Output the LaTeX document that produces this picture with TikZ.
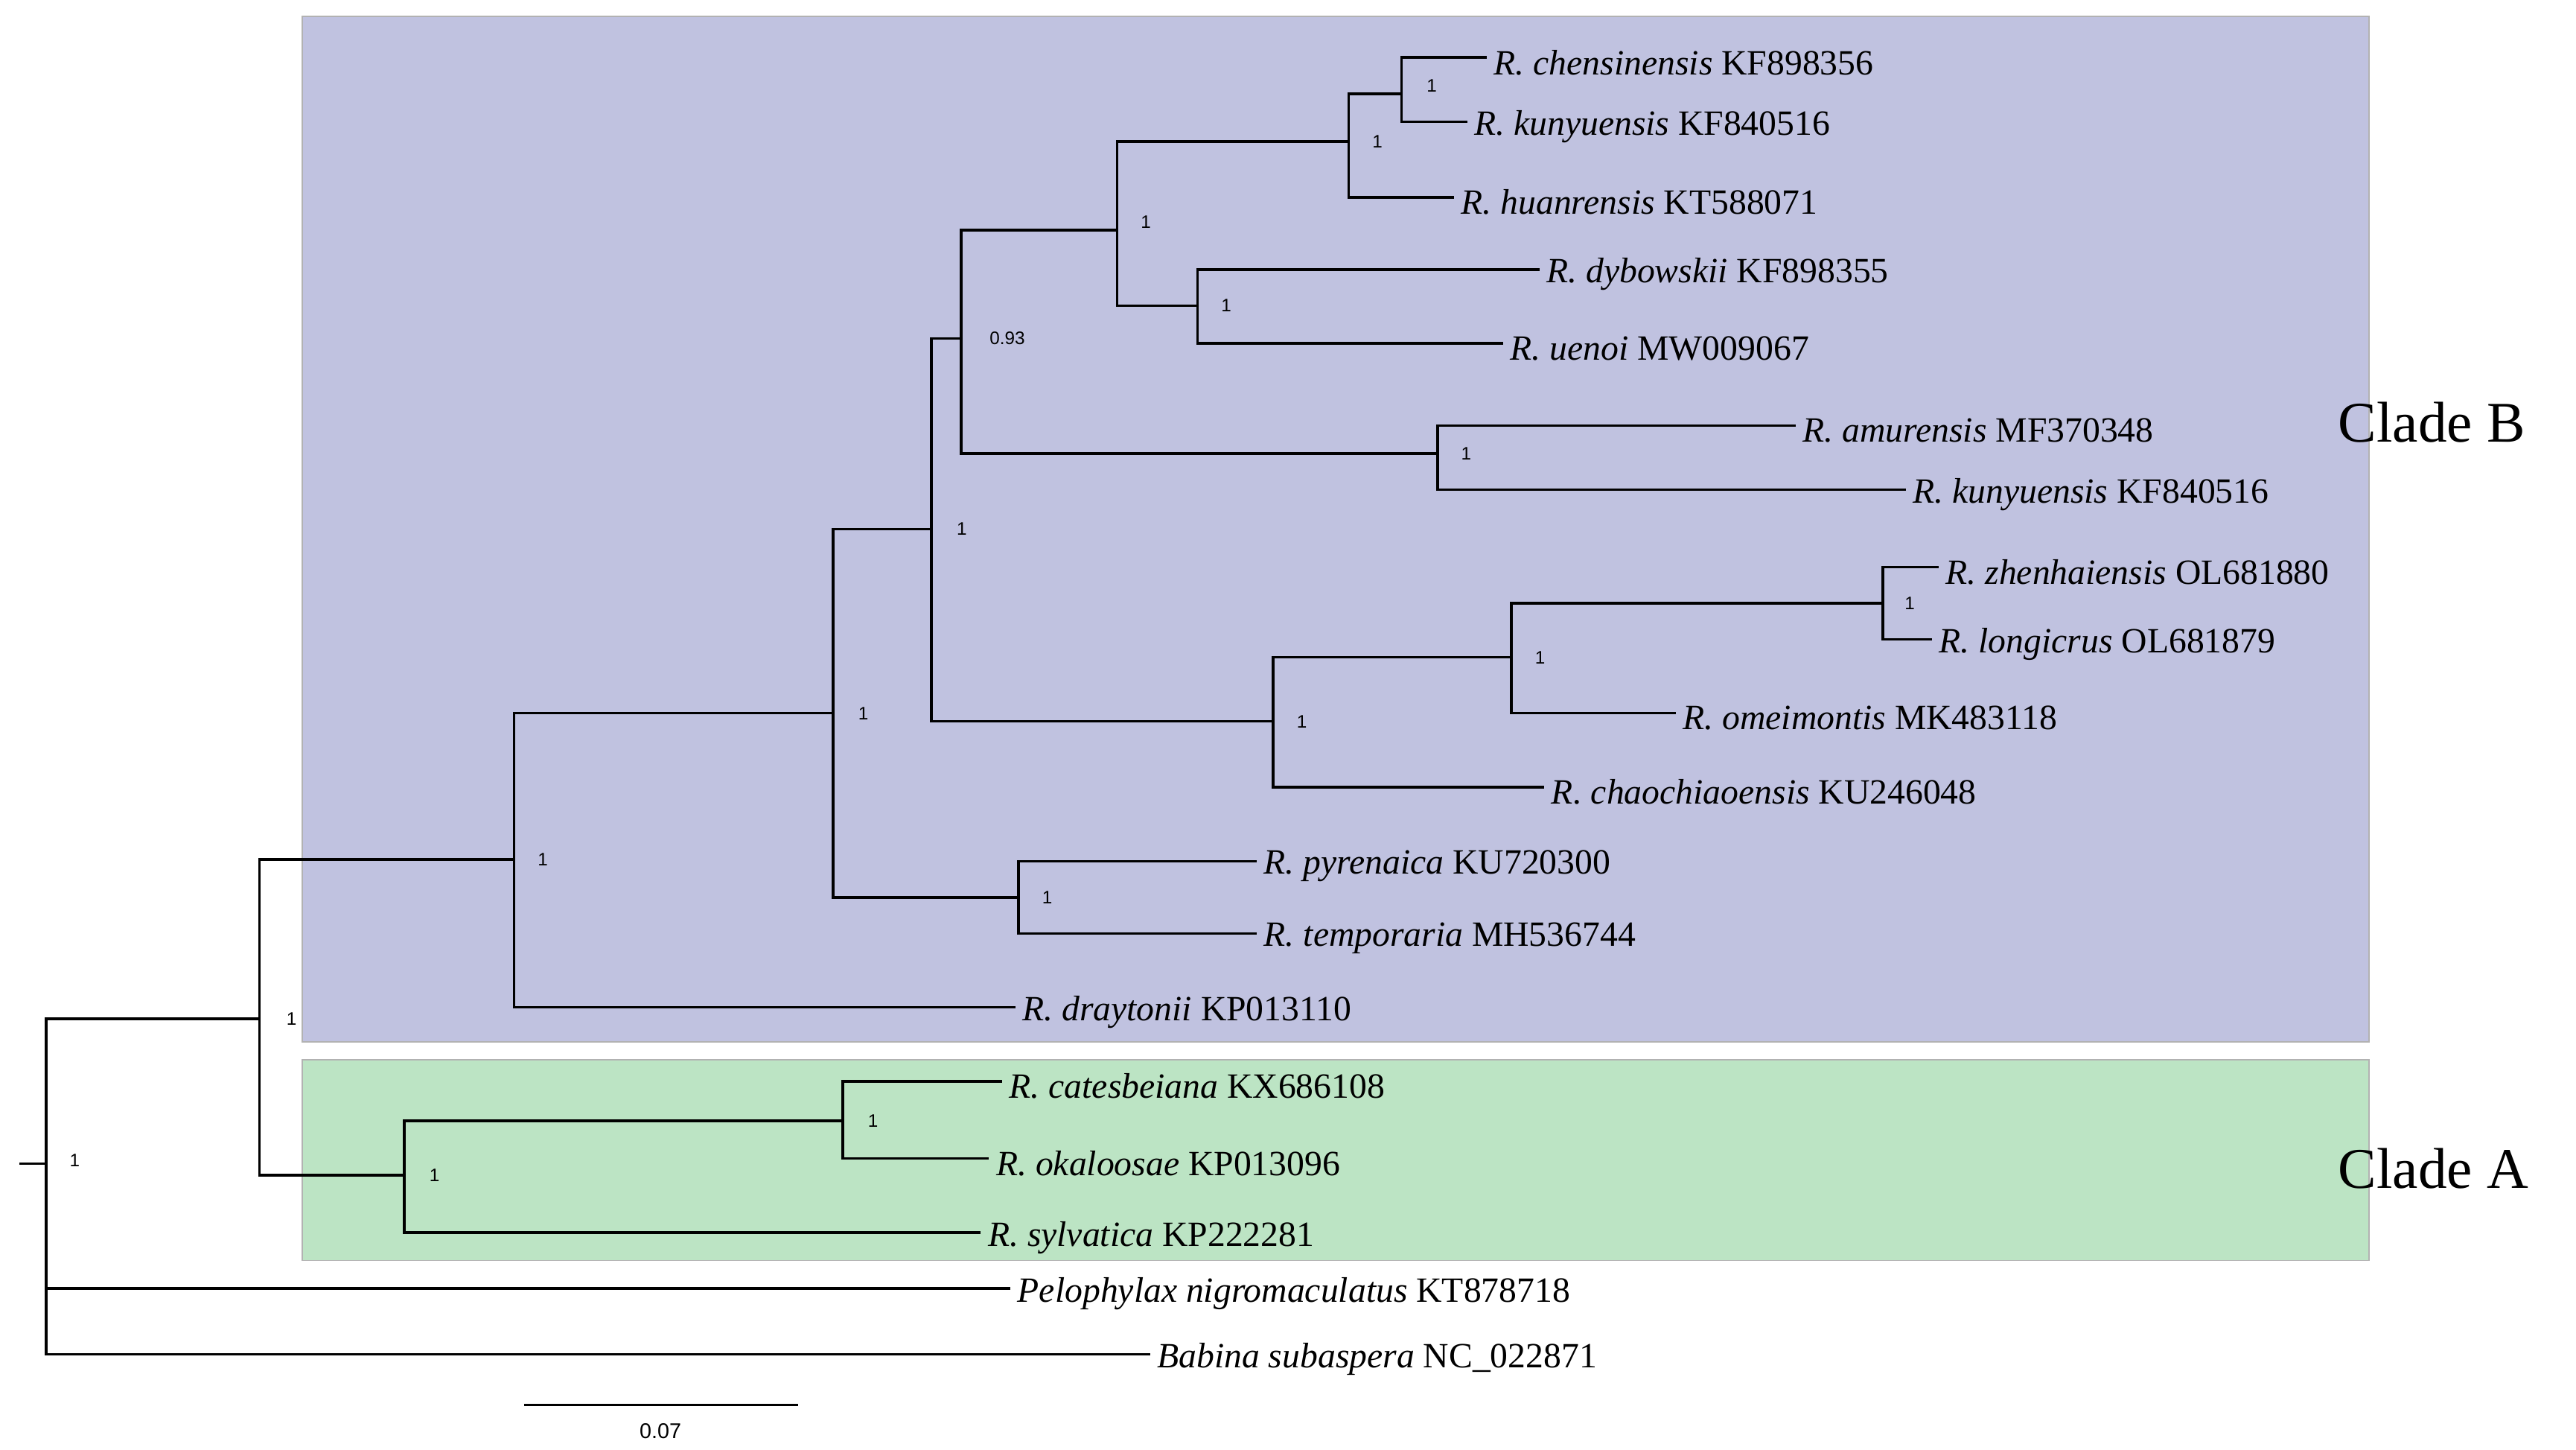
\documentclass[tikz,border=0pt]{standalone}
\usepackage{fontspec}
\setmainfont{Liberation Serif}
\newfontfamily\supfont{Liberation Sans}
\definecolor{cladeB}{RGB}{192,194,224}
\definecolor{cladeA}{RGB}{188,228,196}
\tikzset{
  br/.style={line width=0.8pt},
  tip/.style={anchor=west, inner sep=2pt, yshift=-1.5pt, font=\fontsize{10.8}{12}\selectfont},
  sup/.style={anchor=west, inner sep=1pt, font=\supfont\fontsize{5.5}{6}\selectfont},
  clade/.style={anchor=west, inner sep=0pt, font=\fontsize{17.5}{19}\selectfont}
}
\begin{document}
\begin{tikzpicture}[x=0.5pt, y=-0.5pt]
\useasboundingbox (0,0) rectangle (1568,882);
\fill[cladeB, draw=gray!60] (184,10) rectangle (1442,634);
\fill[cladeA, draw=gray!60] (184,645) rectangle (1442,767);
\node[clade] (cB) at (1423,257) {Clade B};
\node[clade] (cA) at (1423,711) {Clade A};
% internal nodes
\coordinate (r0) at (12,708);
\coordinate (n0) at (28,708);
\coordinate (n1) at (158,620);
\coordinate (nB) at (313,523);
\coordinate (nA) at (246,715);
\coordinate (n2) at (507,434);
\coordinate (n3) at (567,322);
\coordinate (n4) at (620,546);
\coordinate (n5) at (585,206);
\coordinate (n6) at (680,140);
\coordinate (n7) at (875,276);
\coordinate (n8) at (775,439);
\coordinate (n9) at (821,86);
\coordinate (n10) at (729,186);
\coordinate (n11) at (853,57);
\coordinate (n12) at (920,400);
\coordinate (n13) at (1146,367);
\coordinate (n14) at (513,682);
% tips
\coordinate (t1) at (905,35);
\coordinate (t2) at (893,74);
\coordinate (t3) at (885,120);
\coordinate (t4) at (937,164);
\coordinate (t5) at (915,209);
\coordinate (t6) at (1093,259);
\coordinate (t7) at (1160,298);
\coordinate (t8) at (1180,345);
\coordinate (t9) at (1176,389);
\coordinate (t10) at (1020,434);
\coordinate (t11) at (940,479);
\coordinate (t12) at (765,524);
\coordinate (t13) at (765,568);
\coordinate (t14) at (618,613);
\coordinate (t15) at (610,658);
\coordinate (t16) at (602,705);
\coordinate (t17) at (597,750);
\coordinate (t18) at (615,784);
\coordinate (t19) at (700,824);
\node[tip] (l1) at (t1) {\textit{R. chensinensis} KF898356};
\node[tip] (l2) at (t2) {\textit{R. kunyuensis} KF840516};
\node[tip] (l3) at (t3) {\textit{R. huanrensis} KT588071};
\node[tip] (l4) at (t4) {\textit{R. dybowskii} KF898355};
\node[tip] (l5) at (t5) {\textit{R. uenoi} MW009067};
\node[tip] (l6) at (t6) {\textit{R. amurensis} MF370348};
\node[tip] (l7) at (t7) {\textit{R. kunyuensis} KF840516};
\node[tip] (l8) at (t8) {\textit{R. zhenhaiensis} OL681880};
\node[tip] (l9) at (t9) {\textit{R. longicrus} OL681879};
\node[tip] (l10) at (t10) {\textit{R. omeimontis} MK483118};
\node[tip] (l11) at (t11) {\textit{R. chaochiaoensis} KU246048};
\node[tip] (l12) at (t12) {\textit{R. pyrenaica} KU720300};
\node[tip] (l13) at (t13) {\textit{R. temporaria} MH536744};
\node[tip] (l14) at (t14) {\textit{R. draytonii} KP013110};
\node[tip] (l15) at (t15) {\textit{R. catesbeiana} KX686108};
\node[tip] (l16) at (t16) {\textit{R. okaloosae} KP013096};
\node[tip] (l17) at (t17) {\textit{R. sylvatica} KP222281};
\node[tip] (l18) at (t18) {\textit{Pelophylax nigromaculatus} KT878718};
\node[tip] (l19) at (t19) {\textit{Babina subaspera} NC\_022871};
% branches
\draw[br] (r0) -- (n0);
\foreach \p/\c in {n0/n1, n0/t18, n0/t19, n1/nB, n1/nA, nB/n2, nB/t14,
  n2/n3, n2/n4, n4/t12, n4/t13, n3/n5, n3/n8, n5/n6, n5/n7, n6/n9, n6/n10,
  n9/n11, n9/t3, n11/t1, n11/t2, n10/t4, n10/t5, n7/t6, n7/t7,
  n8/n12, n8/t11, n12/n13, n12/t10, n13/t8, n13/t9, nA/n14, nA/t17,
  n14/t15, n14/t16}
  \draw[br] (\p) |- (\c);
% support values
\node[sup] (s0) at (40,706) {1};
\node[sup] (s1) at (172,620) {1};
\node[sup] (sB) at (325,523) {1};
\node[sup] (s2) at (520,434) {1};
\node[sup] (s3) at (580,322) {1};
\node[sup] (s4) at (632,546) {1};
\node[sup] (s5) at (600,206) {0.93};
\node[sup] (s6) at (692,135) {1};
\node[sup] (s7) at (887,276) {1};
\node[sup] (s8) at (787,439) {1};
\node[sup] (s9) at (833,86) {1};
\node[sup] (s10) at (741,186) {1};
\node[sup] (s11) at (866,52) {1};
\node[sup] (s12) at (932,400) {1};
\node[sup] (s13) at (1157,367) {1};
\node[sup] (sA) at (259,715) {1};
\node[sup] (s14) at (526,682) {1};
% scale bar
\coordinate (b0) at (319,855);
\coordinate (b1) at (486,855);
\draw[br] (b0) -- (b1);
\node[sup, anchor=center, font=\supfont\fontsize{6.5}{7}\selectfont] (bl) at (402,871) {0.07};
\end{tikzpicture}
\end{document}
